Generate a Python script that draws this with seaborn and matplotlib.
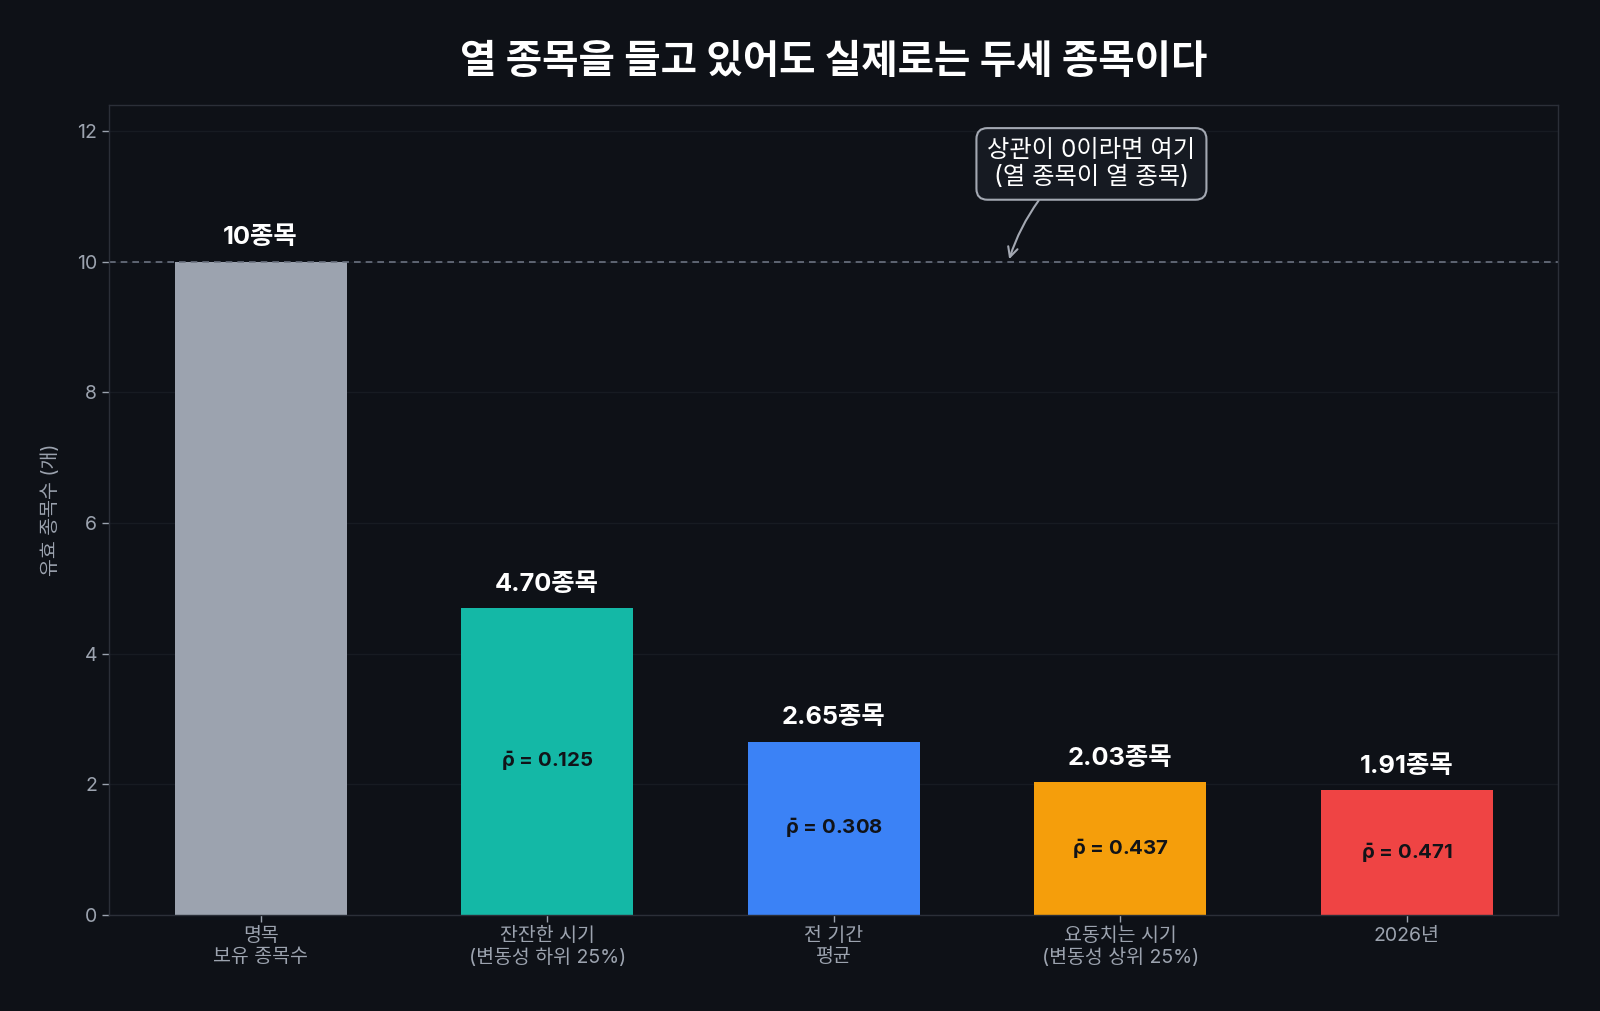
import matplotlib
matplotlib.use("Agg")
import matplotlib.pyplot as plt
import seaborn as sns
import pandas as pd

# ── Data ─────────────────────────────────────────────────────────────────────
CATEGORIES = ["명목\n보유 종목수", "잔잔한 시기\n(변동성 하위 25%)", "전 기간\n평균",
              "요동치는 시기\n(변동성 상위 25%)", "2026년"]
EFFECTIVE_N = [10.0, 4.70, 2.65, 2.03, 1.91]
VALUE_LABELS = ["10종목", "4.70종목", "2.65종목", "2.03종목", "1.91종목"]
AVG_CORR = [None, 0.125, 0.308, 0.437, 0.471]
NOMINAL = 10

# ── Style ────────────────────────────────────────────────────────────────────
BG = "#0E1117"
SPINE = "#2B2F38"
MUTED = "#9CA3AF"
COLORS = ["#9CA3AF", "#14B8A6", "#3B82F6", "#F59E0B", "#EF4444"]

sns.set_theme(style="dark")
plt.rcParams.update({
    "figure.facecolor": BG,
    "axes.facecolor": BG,
    "axes.edgecolor": SPINE,
    "axes.labelcolor": MUTED,
    "xtick.color": MUTED,
    "ytick.color": MUTED,
    "text.color": "white",
    # rho-bar is drawn with mathtext so the macron sits on the rho
    "mathtext.fontset": "custom",
    "mathtext.rm": "Inter:bold",
    "mathtext.it": "Inter:bold",
    "mathtext.bf": "Inter:bold",
})
plt.rcParams["font.family"] = ["Inter", "Noto Sans CJK KR", "DejaVu Sans"]

df = pd.DataFrame({"category": CATEGORIES, "n": EFFECTIVE_N})

fig = plt.figure(figsize=(16, 10.11), dpi=100)
ax = fig.add_axes([0.068, 0.095, 0.906, 0.801])

sns.barplot(data=df, x="category", y="n", hue="category", palette=COLORS,
            legend=False, width=0.6, saturation=1, linewidth=0, edgecolor="none", ax=ax)

ax.set_xlim(-0.53, len(CATEGORIES) - 0.47)
ax.set_ylim(0, 12.4)
ax.set_yticks([0, 2, 4, 6, 8, 10, 12])
ax.grid(axis="y", color="#171B22", linewidth=1)
ax.set_axisbelow(True)
for s in ax.spines.values():
    s.set_color(SPINE)
    s.set_linewidth(1)

ax.tick_params(axis="x", labelsize=14, length=5, color=MUTED, width=1, bottom=True)
ax.tick_params(axis="y", labelsize=14, length=5, color=MUTED, width=1, left=True)
ax.set_xlabel("")
ax.set_ylabel("유효 종목수 (개)", fontsize=14, labelpad=12)

# reference line for zero correlation
ax.axhline(NOMINAL, color="#6B7280", linestyle=(0, (4, 3)), linewidth=1.2, zorder=1)

for i, (v, lab, rho) in enumerate(zip(EFFECTIVE_N, VALUE_LABELS, AVG_CORR)):
    ax.annotate(lab, (i, v), xytext=(0, 9), textcoords="offset points",
                ha="center", va="bottom", fontsize=18.3, fontweight="bold", color="white")
    if rho is not None:
        ax.text(i, v / 2, rf"$\bar{{\rho}}$ = {rho:.3f}", ha="center", va="center",
                fontsize=14.7, fontweight="bold", color="#111318")

ax.annotate("상관이 0이라면 여기\n(열 종목이 열 종목)",
            xy=(2.61, NOMINAL), xytext=(2.90, 11.5),
            ha="center", va="center", fontsize=17.5, color="white", linespacing=1.2,
            bbox=dict(boxstyle="round,pad=0.45", fc="#161A22", ec="#A3A8B2", lw=1.5),
            arrowprops=dict(arrowstyle="->", color="#A3A8B2", lw=1.5, relpos=(0.29, 0),
                            connectionstyle="arc3,rad=0.1", shrinkA=0, shrinkB=2))

ax.set_title("열 종목을 들고 있어도 실제로는 두세 종목이다", pad=23,
             fontsize=28.5, fontweight="bold", color="white")

fig.savefig("out.png", dpi=100, facecolor=BG)
